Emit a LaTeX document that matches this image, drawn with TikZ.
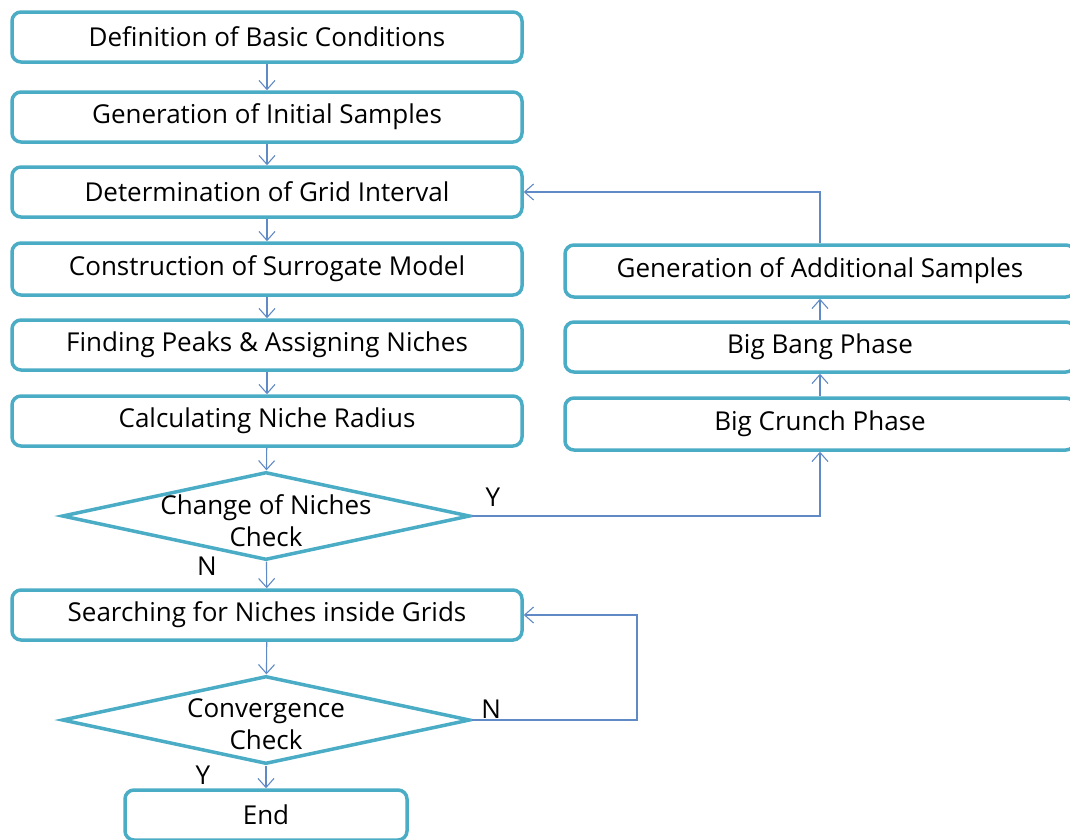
\documentclass[tikz,border=0pt]{standalone}
\usepackage{fontspec}
\setmainfont{Open Sans}
\usetikzlibrary{shapes.geometric,arrows.meta}
\definecolor{frameteal}{RGB}{75,172,198}
\definecolor{linkblue}{RGB}{96,138,198}
\begin{document}
\begin{tikzpicture}[x=1pt,y=-1pt,font=\fontsize{26}{32}\selectfont,
    box/.style={draw=frameteal,line width=3.5pt,rounded corners=9pt,minimum width=510pt,minimum height=50pt,inner sep=0pt},
    decision/.style={diamond,draw=frameteal,line width=3.5pt,minimum width=408pt,minimum height=88pt,inner sep=0pt},
    flow/.style={draw=linkblue,line width=1.1pt,-{Straight Barb[length=9pt,width=16pt]}}]
    \clip (0,0) rectangle (1070,839);
    % main column
    \node[box] (b1) at (267,37) {Definition of Basic Conditions};
    \node[box] (b2) at (267,117) {Generation of Initial Samples};
    \node[box] (b3) at (267,192) {Determination of Grid Interval};
    \node[box,minimum height=52pt] (b4) at (267,269) {Construction of Surrogate Model};
    \node[box] (b5) at (267,345) {Finding Peaks \& Assigning Niches};
    \node[box] (b6) at (267,421) {Calculating Niche Radius};
    \node[decision,label={[align=center,yshift=-5pt]center:Change of Niches\\Check}] (d1) at (266,516) {};
    \node[box] (b7) at (267,615) {Searching for Niches inside Grids};
    \node[decision,label={[align=center,yshift=-4pt]center:Convergence\\Check}] (d2) at (266,720) {};
    \node[box,minimum width=282pt] (end) at (266,815) {End};
    % big bang - big crunch branch
    \node[box,minimum height=52pt] (r1) at (820,271) {Generation of Additional Samples};
    \node[box] (r2) at (820,347) {Big Bang Phase};
    \node[box,minimum height=52pt] (r3) at (820,424) {Big Crunch Phase};
    \coordinate (loop) at (637,720);
    % connectors
    \foreach \a/\b in {b1/b2,b2/b3,b3/b4,b4/b5,b5/b6,b6/d1,d1/b7,b7/d2,d2/end,r3/r2,r2/r1}
        \draw[flow] (\a) -- (\b);
    \draw[flow] (d1.east) node[above right,xshift=10pt,yshift=6pt] {Y} -| (r3.south);
    \draw[flow] (r1.north) |- (b3.east);
    \draw[flow] (d2.east) node[above right,xshift=8pt,inner sep=1pt] {N} -- (loop) |- (b7.east);
    \node at (207,566) {N};
    \node at (203,775) {Y};
\end{tikzpicture}
\end{document}
